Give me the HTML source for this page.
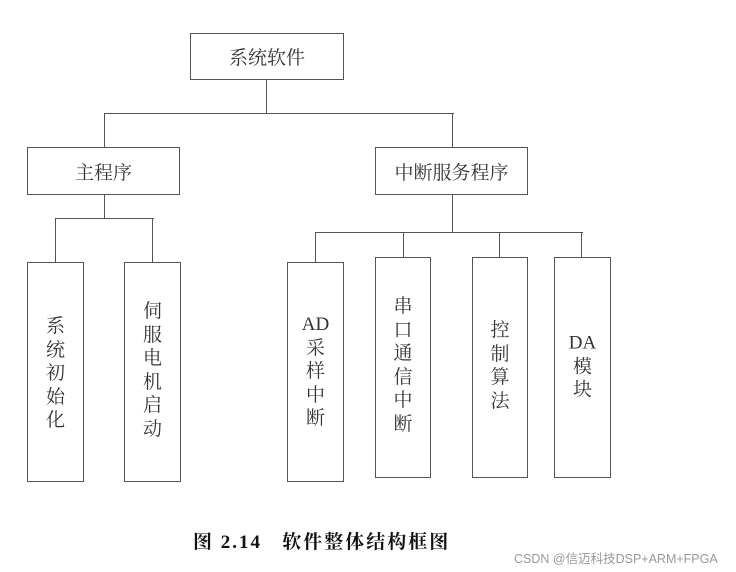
<!DOCTYPE html>
<html><head><meta charset="utf-8"><style>
body{margin:0;background:#fff;width:736px;height:572px;overflow:hidden;position:relative;font-family:"Liberation Serif","Noto Serif CJK SC",serif;color:#333}
.b{position:absolute;border:1.3px solid #555;box-sizing:border-box}
.l{position:absolute;background:#555}
.t{position:absolute;display:flex;align-items:center;justify-content:center;font-size:19px}
.v{position:absolute;text-align:center;font-size:19px;line-height:23.6px;transform:translateY(-50%)}
</style></head><body>
<div class="b" style="left:190px;top:33px;width:154px;height:47px"></div>
<div class="t" style="left:190px;top:33px;width:154px;height:47px">系统软件</div>
<div class="l" style="left:266px;top:80px;width:1.3px;height:34px"></div>
<div class="l" style="left:104px;top:113px;width:350px;height:1.3px"></div>
<div class="l" style="left:104px;top:113px;width:1.3px;height:34px"></div>
<div class="l" style="left:452px;top:113px;width:1.3px;height:34px"></div>
<div class="b" style="left:27px;top:147px;width:153px;height:48px"></div>
<div class="t" style="left:27px;top:147px;width:153px;height:48px">主程序</div>
<div class="b" style="left:375px;top:147px;width:153px;height:48px"></div>
<div class="t" style="left:375px;top:147px;width:153px;height:48px">中断服务程序</div>
<div class="l" style="left:104px;top:195px;width:1.3px;height:24px"></div>
<div class="l" style="left:55px;top:218px;width:99px;height:1.3px"></div>
<div class="l" style="left:55px;top:218px;width:1.3px;height:44px"></div>
<div class="l" style="left:152px;top:218px;width:1.3px;height:44px"></div>
<div class="l" style="left:452px;top:195px;width:1.3px;height:38px"></div>
<div class="l" style="left:315px;top:232px;width:268px;height:1.3px"></div>
<div class="l" style="left:315px;top:232px;width:1.3px;height:30px"></div>
<div class="l" style="left:403px;top:232px;width:1.3px;height:25px"></div>
<div class="l" style="left:499px;top:232px;width:1.3px;height:25px"></div>
<div class="l" style="left:581px;top:232px;width:1.3px;height:25px"></div>
<div class="b" style="left:27px;top:262px;width:57px;height:220px"></div>
<div class="v" style="left:27px;width:57px;top:374px">系<br>统<br>初<br>始<br>化</div>
<div class="b" style="left:124px;top:262px;width:57px;height:220px"></div>
<div class="v" style="left:124px;width:57px;top:371px">伺<br>服<br>电<br>机<br>启<br>动</div>
<div class="b" style="left:287px;top:262px;width:57px;height:220px"></div>
<div class="v" style="left:287px;width:57px;top:372px">AD<br>采<br>样<br>中<br>断</div>
<div class="b" style="left:375px;top:257px;width:56px;height:221px"></div>
<div class="v" style="left:375px;width:56px;top:366px">串<br>口<br>通<br>信<br>中<br>断</div>
<div class="b" style="left:472px;top:257px;width:56px;height:221px"></div>
<div class="v" style="left:472px;width:56px;top:366px">控<br>制<br>算<br>法</div>
<div class="b" style="left:554px;top:257px;width:57px;height:221px"></div>
<div class="v" style="left:554px;width:57px;top:367px">DA<br>模<br>块</div>
<div style="position:absolute;left:193px;top:527px;font-size:19px;font-weight:bold;color:#111;white-space:nowrap;letter-spacing:2px">图 2.14&nbsp;&nbsp; 软件整体结构框图</div>
<div style="position:absolute;left:514px;top:548px;font-size:12.5px;color:#999;font-family:'Liberation Sans','Noto Sans CJK SC',sans-serif;white-space:nowrap">CSDN @信迈科技DSP+ARM+FPGA</div>
</body></html>
